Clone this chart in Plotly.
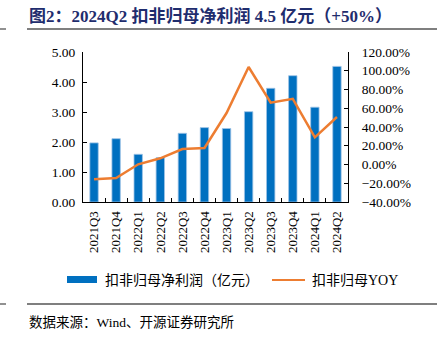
import plotly.graph_objects as go

categories = ["2021Q3", "2021Q4", "2022Q1", "2022Q2", "2022Q3", "2022Q4",
              "2023Q1", "2023Q2", "2023Q3", "2023Q4", "2024Q1", "2024Q2"]
profit = [1.97, 2.11, 1.59, 1.48, 2.29, 2.48, 2.45, 3.01, 3.79, 4.21, 3.16, 4.52]
yoy = [-15.8, -14.4, 0.2, 6.6, 16.5, 17.6, 54.9, 104.0, 66.0, 70.0, 29.0, 50.7]
yoy_frac = [v / 100 for v in yoy]

W, H = 441, 337
L, R, T, B = 83, 348, 52, 202

def px(x):
    return (x - L) / (R - L)

def py(y):
    return (B - y) / (B - T)

SERIF = "Times New Roman, Liberation Serif, Noto Sans CJK SC, serif"
CJK = "Liberation Serif, Noto Sans CJK SC, serif"

fig = go.Figure()
fig.add_trace(go.Bar(x=categories, y=profit, name="扣非归母净利润（亿元）",
                     marker=dict(color="#0070C0", line=dict(color="#9DC3E6", width=0.8)),
                     width=0.38, yaxis="y"))
fig.add_trace(go.Scatter(x=categories, y=yoy_frac, name="扣非归母YOY", mode="lines",
                         line=dict(color="#ED7D31", width=2.5), yaxis="y2"))

fig.update_layout(
    width=W, height=H, showlegend=False,
    margin=dict(l=L, r=W - R, t=T, b=H - B, pad=0),
    plot_bgcolor="white", paper_bgcolor="white",
    font=dict(family=SERIF, size=13, color="#000000"),
    xaxis=dict(type="category", showline=True, linecolor="#000", linewidth=1,
               ticks="inside", ticklen=4, tickson="boundaries", tickcolor="#000",
               tickangle=-90, tickfont=dict(size=13, family=SERIF), showgrid=False,
               ticklabelstandoff=3),
    yaxis=dict(range=[0, 5], dtick=1, tickformat=".2f", showline=True, linecolor="#000",
               linewidth=1, ticks="inside", ticklen=4, tickcolor="#000", showgrid=False,
               zeroline=False, tickfont=dict(size=13.5, family=SERIF), ticklabelstandoff=4),
    yaxis2=dict(range=[-0.4, 1.2], dtick=0.2, tickformat=".2%", overlaying="y", side="right",
                showline=True, linecolor="#000", linewidth=1, ticks="inside", ticklen=4,
                tickcolor="#000", showgrid=False, zeroline=False,
                tickfont=dict(size=13.5, family=SERIF), ticklabelstandoff=10),
    bargap=0.6,
)

shapes = []
annotations = []
# title
annotations.append(dict(xref="paper", yref="paper", x=px(27), y=py(16), xanchor="left",
                        yanchor="middle", showarrow=False,
                        text="<b>图2：2024Q2 扣非归母净利润 4.5 亿元（+50%）</b>",
                        font=dict(size=17, color="#1F2D6E", family=CJK)))
for yy in (29, 304):
    shapes.append(dict(type="line", xref="paper", yref="paper", x0=px(27), x1=px(437),
                       y0=py(yy), y1=py(yy), line=dict(color="#555555", width=1.3)))
    shapes.append(dict(type="line", xref="paper", yref="paper", x0=px(0), x1=px(6),
                       y0=py(yy), y1=py(yy), line=dict(color="#555555", width=1.3)))
# legend
shapes.append(dict(type="rect", xref="paper", yref="paper", x0=px(67), x1=px(97),
                   y0=py(283), y1=py(276), fillcolor="#0070C0", line=dict(width=0)))
annotations.append(dict(xref="paper", yref="paper", x=px(103), y=py(280), xanchor="left",
                        yanchor="middle", showarrow=False, text="扣非归母净利润（亿元）",
                        font=dict(size=14, family=CJK)))
shapes.append(dict(type="line", xref="paper", yref="paper", x0=px(272), x1=px(305),
                   y0=py(280), y1=py(280), line=dict(color="#ED7D31", width=2)))
annotations.append(dict(xref="paper", yref="paper", x=px(310), y=py(280), xanchor="left",
                        yanchor="middle", showarrow=False, text="扣非归母YOY",
                        font=dict(size=14, family=CJK)))
# source
annotations.append(dict(xref="paper", yref="paper", x=px(27), y=py(322), xanchor="left",
                        yanchor="middle", showarrow=False, text="数据来源：Wind、开源证券研究所",
                        font=dict(size=13.5, family=CJK)))
fig.update_layout(shapes=shapes, annotations=annotations)

fig.write_html("out.html")
